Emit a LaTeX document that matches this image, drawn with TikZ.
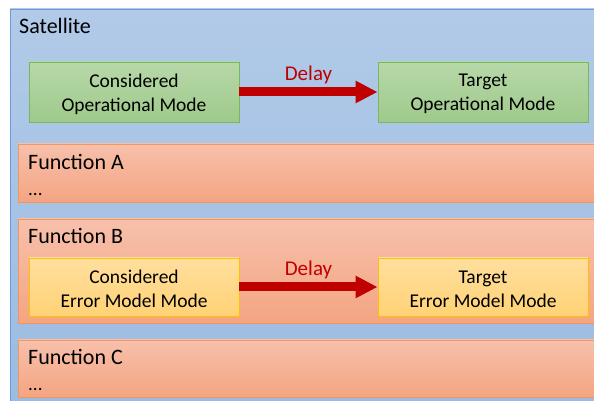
\documentclass[tikz,border=0pt]{standalone}
\usepackage{fontspec}
\setmainfont{Carlito}
\usetikzlibrary{arrows.meta}

\definecolor{satTop}{HTML}{B1CAE8}
\definecolor{satBot}{HTML}{9BBBE0}
\definecolor{satLine}{HTML}{6B9BD8}
\definecolor{fnTop}{HTML}{F7C0AB}
\definecolor{fnBot}{HTML}{F4A582}
\definecolor{fnLine}{HTML}{F0965E}
\definecolor{grTop}{HTML}{B7D8A9}
\definecolor{grBot}{HTML}{9FCA8B}
\definecolor{grLine}{HTML}{7AB65C}
\definecolor{yeTop}{HTML}{FFDF9F}
\definecolor{yeBot}{HTML}{FFD275}
\definecolor{yeLine}{HTML}{FFC000}
\definecolor{delayRed}{HTML}{C00000}

\tikzset{
  satbox/.style={draw=satLine, line width=0.9pt, top color=satTop, bottom color=satBot,
    minimum width=590pt, minimum height=402pt, inner sep=0pt},
  fnbox/.style={draw=fnLine, line width=0.9pt, top color=fnTop, bottom color=fnBot,
    minimum width=592pt, inner sep=0pt},
  modebox/.style={line width=0.9pt, minimum width=210pt, inner sep=0pt},
  modetext/.style={align=center, inner sep=0pt, yshift=-2pt,
    font=\fontsize{19.5}{24}\selectfont, text=black},
  opbox/.style={modebox, draw=grLine, top color=grTop, bottom color=grBot, minimum height=60pt},
  errbox/.style={modebox, draw=yeLine, top color=yeTop, bottom color=yeBot, minimum height=58pt},
  heading/.style={anchor=base west, inner sep=0pt, font=\fontsize{22}{26}\selectfont},
  dots/.style={anchor=base west, inner sep=0pt, font=\fontsize{19}{23}\selectfont},
  delayarrow/.style={draw=delayRed, line width=9pt, -{Triangle[length=22pt,width=21pt]}},
  delaylabel/.style={anchor=base, inner sep=0pt, text=delayRed, font=\fontsize{21}{25}\selectfont}
}

\begin{document}
\begin{tikzpicture}[x=1pt, y=1pt]
  \useasboundingbox (0,0) rectangle (594,401);
  \clip (0,0) rectangle (594,401);

  % outer satellite container
  \node[satbox] (sat) at (305,191) {};
  \node[heading] (satlabel) at (19,367) {Satellite};

  % operational modes
  \node[opbox] (opcur) at (134,309) {};
  \node[modetext] (opcurtxt) at (opcur.center) {Considered\\Operational Mode};
  \node[opbox] (optgt) at (483,309) {};
  \node[modetext] (optgttxt) at (optgt.center) {Target\\Operational Mode};
  \draw[delayarrow] (opcur.east) -- (optgt.west)
    node[delaylabel, pos=0.5, yshift=11pt] (opdelay) {Delay};

  % function A
  \node[fnbox, minimum height=58pt] (fnA) at (314,228) {};
  \node[heading] (fnAlabel) at (28,231) {Function A};
  \node[dots] (fnAdots) at (28,205) {...};

  % function B with error model modes
  \node[fnbox, minimum height=104pt] (fnB) at (314,130) {};
  \node[heading] (fnBlabel) at (28,157) {Function B};
  \node[errbox] (errcur) at (134,114) {};
  \node[modetext] (errcurtxt) at (errcur.center) {Considered\\Error Model Mode};
  \node[errbox] (errtgt) at (483,114) {};
  \node[modetext] (errtgttxt) at (errtgt.center) {Target\\Error Model Mode};
  \draw[delayarrow] (errcur.east) -- (errtgt.west)
    node[delaylabel, pos=0.5, yshift=11pt] (errdelay) {Delay};

  % function C
  \node[fnbox, minimum height=57pt] (fnC) at (314,32.5) {};
  \node[heading] (fnClabel) at (28,36) {Function C};
  \node[dots] (fnCdots) at (28,10) {...};
\end{tikzpicture}
\end{document}
